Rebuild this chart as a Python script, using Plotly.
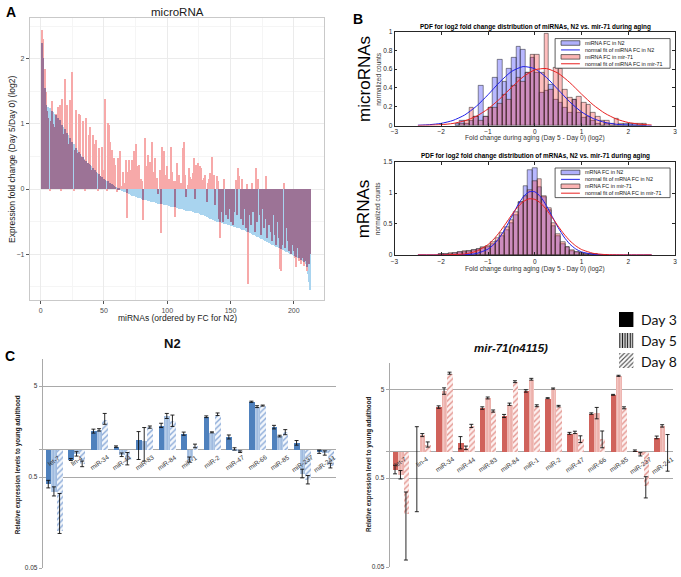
import plotly.graph_objects as go

W, H = 681, 577
FONT = "Liberation Sans, Arial, sans-serif"


def px(x):
    return x / W


def py(y):
    return 1 - y / H


# ---------------- Panel A: miRNA fold changes (log2, Day5/Day0) ----------------
mirna_rank = list(range(1, 214))
fc_n2 = [
    2.25, 2.02, 1.55, 1.30, 1.27, 1.26, 1.24, 1.22, 1.20, 1.18,
    1.16, 1.14, 1.12, 1.10, 1.06, 1.02, 0.99, 0.96, 0.93, 0.90,
    0.86, 0.83, 0.79, 0.75, 0.72, 0.69, 0.66, 0.63, 0.60, 0.57,
    0.54, 0.51, 0.49, 0.47, 0.45, 0.43, 0.41, 0.39, 0.37, 0.35,
    0.33, 0.31, 0.29, 0.27, 0.25, 0.23, 0.21, 0.19, 0.17, 0.16,
    0.14, 0.13, 0.12, 0.10, 0.09, 0.08, 0.06, 0.05, 0.04, 0.03,
    0.02, 0.01, -0.01, -0.02, -0.03, -0.04, -0.05, -0.06, -0.07, -0.08,
    -0.09, -0.10, -0.10, -0.11, -0.12, -0.12, -0.13, -0.14, -0.14, -0.15,
    -0.16, -0.16, -0.17, -0.17, -0.18, -0.18, -0.19, -0.19, -0.20, -0.20,
    -0.21, -0.21, -0.22, -0.22, -0.23, -0.23, -0.24, -0.24, -0.25, -0.25,
    -0.26, -0.26, -0.27, -0.27, -0.28, -0.28, -0.29, -0.29, -0.30, -0.30,
    -0.31, -0.31, -0.32, -0.32, -0.33, -0.33, -0.33, -0.34, -0.34, -0.35,
    -0.35, -0.36, -0.36, -0.37, -0.37, -0.38, -0.39, -0.40, -0.40, -0.41,
    -0.42, -0.43, -0.44, -0.45, -0.46, -0.47, -0.48, -0.49, -0.50, -0.50,
    -0.51, -0.51, -0.52, -0.52, -0.53, -0.53, -0.54, -0.55, -0.55, -0.56,
    -0.56, -0.57, -0.58, -0.58, -0.59, -0.60, -0.60, -0.61, -0.62, -0.63,
    -0.63, -0.64, -0.65, -0.66, -0.67, -0.68, -0.69, -0.70, -0.71, -0.72,
    -0.73, -0.74, -0.75, -0.76, -0.77, -0.78, -0.79, -0.80, -0.81, -0.82,
    -0.83, -0.84, -0.85, -0.86, -0.87, -0.88, -0.89, -0.90, -0.91, -0.92,
    -0.93, -0.94, -0.95, -0.96, -0.97, -0.98, -0.99, -1.00, -1.01, -1.02,
    -1.03, -1.04, -1.05, -1.06, -1.07, -1.08, -1.10, -1.12, -1.15, -1.20,
    -1.30, -1.42, -1.55,
]
fc_mir71 = [
    2.45, 2.30, 1.85, 1.50, 1.20, 1.10, -0.02, 1.05, 1.35, 1.00,
    0.95, 1.15, 0.90, 1.26, 1.30, -0.03, 1.39, 0.85, 1.70, 0.80,
    1.29, 0.70, 1.37, 0.65, 1.80, -0.02, 0.60, 1.21, 0.55, 1.16,
    1.14, 0.50, 1.05, 0.45, -0.02, 1.09, 0.40, 0.83, 0.96, 0.30,
    0.83, 0.25, 0.70, 0.76, -0.03, 0.63, 0.20, 0.65, 0.12, 0.30,
    1.38, -0.02, 1.02, 0.98, 0.73, 0.60, 0.35, 0.48, 0.37, -0.05,
    0.48, 0.20, 0.58, 0.05, 0.27, 0.10, 0.45, -0.44, 0.27, 0.45,
    0.30, 0.45, 0.20, 0.58, 0.70, 0.35, 0.08, 0.37, 0.15, 0.12,
    -0.48, 0.78, 0.35, 0.10, 0.53, 0.42, 0.06, 0.72, 0.27, 0.48,
    0.05, 0.17, -0.08, 0.30, -0.68, 0.65, 0.58, 0.22, 0.10, 0.35,
    0.15, 0.05, 0.65, 0.27, 0.12, -0.43, 0.12, 0.40, 0.22, 0.08,
    0.10, 0.63, 0.72, 0.22, -0.12, 0.07, 0.32, 0.18, 0.15, 0.25,
    0.48, -0.15, 0.37, 0.40, 0.10, 0.35, 0.32, 0.14, 0.17, 0.22,
    -0.20, 0.10, 0.16, 0.25, 0.50, 0.05, 0.22, -0.25, 0.20, 0.12,
    -0.45, -0.75, -0.35, -0.50, 0.15, -0.40, -0.20, -0.45, -0.30, -0.50,
    -0.25, -0.55, -0.35, 0.14, -0.40, 0.32, 0.20, -0.45, 0.15, -0.55,
    -0.30, -0.60, 0.08, -1.46, -0.40, -0.55, 0.10, -0.35, -0.65, 0.32,
    -0.50, 0.15, -0.40, -0.70, -0.30, -0.60, -0.45, 0.20, -0.75, -0.55,
    -0.35, -0.65, -0.80, -0.40, -0.70, -0.85, -0.50, -0.75, -1.22, -1.25,
    -0.85, 0.09, -0.90, -0.60, -0.80, -0.95, -0.70, -1.00, -0.85, -0.95,
    -1.05, -1.20, -0.90, -1.10, -0.98, -1.15, -1.05, -1.18, -1.10, -1.25,
    -1.00, -1.15, -1.00,
]

# ---------------- Panel B: histograms (normalized counts) and normal fits ----------------
mirna_bin_centers = [
    -1.65, -1.55, -1.45, -1.35, -1.25, -1.15, -1.05, -0.95, -0.85, -0.75,
    -0.65, -0.55, -0.45, -0.35, -0.25, -0.15, -0.05, 0.05, 0.15, 0.25,
    0.35, 0.45, 0.55, 0.65, 0.75, 0.85, 0.95, 1.05, 1.15, 1.25,
    1.35, 1.45, 1.55, 1.65, 1.75, 1.85, 1.95, 2.05, 2.15, 2.25, 2.35,
]
mirna_hist_n2 = [
    0.02, 0.05, 0.02, 0.05, 0.09, 0.42, 0.09, 0.19, 0.51, 0.70,
    0.47, 0.61, 0.72, 0.84, 0.81, 0.56, 0.72, 0.56, 0.35, 0.37,
    0.44, 0.28, 0.24, 0.19, 0.14, 0.28, 0.14, 0.08, 0.09, 0.05,
    0.02, 0.0, 0.02, 0.0, 0.0, 0.0, 0.02, 0.02, 0.02, 0.0, 0.0,
]
mirna_hist_mir71 = [
    0.0, 0.02, 0.05, 0.19, 0.09, 0.05, 0.09, 0.19, 0.19, 0.23,
    0.33, 0.28, 0.42, 0.51, 0.47, 0.56, 0.75, 0.75, 0.56, 0.98,
    0.38, 0.62, 0.61, 0.38, 0.30, 0.28, 0.31, 0.24, 0.22, 0.14,
    0.09, 0.05, 0.05, 0.02, 0.07, 0.02, 0.0, 0.0, 0.0, 0.02, 0.02,
]
mirna_fit_x = [-2.5, -2.25, -2.0, -1.75, -1.5, -1.25, -1.0, -0.75, -0.5, -0.25, 0.0,
               0.25, 0.5, 0.75, 1.0, 1.25, 1.5, 1.75, 2.0, 2.25, 2.5]
mirna_fit_n2 = [0.003, 0.009, 0.023, 0.054, 0.112, 0.205, 0.328, 0.463, 0.575, 0.628, 0.605,
                0.512, 0.382, 0.251, 0.145, 0.074, 0.033, 0.013, 0.005, 0.001, 0.0]
mirna_fit_mir71 = [0.001, 0.003, 0.009, 0.022, 0.050, 0.099, 0.177, 0.283, 0.404, 0.518, 0.593,
                   0.607, 0.557, 0.457, 0.335, 0.220, 0.130, 0.068, 0.032, 0.014, 0.005]

mrna_bin_centers = [
    -2.0, -1.9, -1.8, -1.7, -1.6, -1.5, -1.4, -1.3, -1.2, -1.1,
    -1.0, -0.9, -0.8, -0.7, -0.6, -0.5, -0.4, -0.3, -0.2, -0.1,
    0.0, 0.1, 0.2, 0.3, 0.4, 0.5, 0.6, 0.7, 0.8, 0.9,
    1.0, 1.1, 1.2, 1.3, 1.4, 1.5,
]
mrna_hist_n2 = [
    0.006, 0.012, 0.02, 0.03, 0.04, 0.05, 0.065, 0.08, 0.09, 0.11,
    0.13, 0.17, 0.22, 0.30, 0.40, 0.51, 0.65, 0.86, 1.12, 1.37,
    1.41, 1.10, 0.93, 0.72, 0.46, 0.30, 0.18, 0.12, 0.07, 0.05,
    0.03, 0.02, 0.012, 0.008, 0.005, 0.003,
]
mrna_hist_mir71 = [
    0.008, 0.015, 0.025, 0.035, 0.045, 0.06, 0.07, 0.085, 0.10, 0.12,
    0.15, 0.20, 0.27, 0.35, 0.45, 0.56, 0.70, 0.85, 0.95, 1.05,
    1.20, 1.22, 0.95, 0.75, 0.52, 0.33, 0.20, 0.12, 0.08, 0.05,
    0.035, 0.02, 0.012, 0.008, 0.005, 0.003,
]
mrna_fit_x = [-2.5, -2.0, -1.5, -1.25, -1.0, -0.875, -0.75, -0.625, -0.5, -0.375, -0.25, -0.125,
              0.0, 0.125, 0.25, 0.375, 0.5, 0.625, 0.75, 0.875, 1.0, 1.25, 1.5, 2.0, 2.5]
mrna_fit_n2 = [0.0, 0.0, 0.004, 0.022, 0.094, 0.171, 0.284, 0.434, 0.61, 0.788, 0.934, 1.018,
               1.02, 0.939, 0.794, 0.617, 0.441, 0.29, 0.174, 0.097, 0.049, 0.01, 0.001, 0.0, 0.0]
mrna_fit_mir71 = [0.0, 0.001, 0.016, 0.059, 0.167, 0.257, 0.371, 0.502, 0.64, 0.765, 0.859, 0.906,
                  0.898, 0.837, 0.732, 0.602, 0.464, 0.337, 0.229, 0.147, 0.088, 0.026, 0.006, 0.0, 0.0]

# ---------------- Panel C: qPCR relative expression ----------------
qpcr_mirnas = ["let-7", "lin-4", "miR-34", "miR-44", "miR-83", "miR-84", "miR-1",
               "miR-2", "miR-47", "miR-66", "miR-85", "miR-237", "miR-241"]
n2_day3 = [0.42, 0.78, 1.60, 1.08, 1.28, 1.85, 1.50, 2.30, 1.38, 3.36, 1.77, 1.19, 0.95]
n2_day5 = [0.35, 0.90, 1.65, 0.88, 1.25, 2.35, 0.78, 1.55, 1.02, 2.97, 1.41, 0.55, 0.92]
n2_day8 = [0.13, 0.70, 2.15, 0.78, 1.77, 2.10, 1.10, 2.45, 0.95, 3.05, 1.56, 0.47, 0.67]
n2_err3_up = [0.04, 0.02, 0.08, 0.02, 0.30, 0.10, 0.06, 0.05, 0.07, 0.05, 0.08, 0.07, 0.04]
n2_err3_lo = [0.04, 0.02, 0.08, 0.02, 0.50, 0.10, 0.06, 0.05, 0.07, 0.05, 0.08, 0.07, 0.04]
n2_err5_up = [0.04, 0.05, 0.05, 0.04, 0.50, 0.15, 0.05, 0.02, 0.03, 0.07, 0.03, 0.06, 0.05]
n2_err5_lo = [0.04, 0.05, 0.05, 0.04, 0.50, 0.15, 0.05, 0.02, 0.03, 0.07, 0.03, 0.06, 0.05]
n2_err8_up = [0.20, 0.05, 0.35, 0.15, 0.05, 0.30, 0.05, 0.08, 0.02, 0.04, 0.10, 0.05, 0.04]
n2_err8_lo = [0.01, 0.05, 0.25, 0.10, 0.05, 0.30, 0.05, 0.08, 0.02, 0.04, 0.10, 0.05, 0.04]
mir71_day3 = [0.63, 1.00, 3.16, 1.27, 3.08, 2.51, 4.80, 3.98, 1.60, 2.67, 4.34, 1.02, 1.44]
mir71_day5 = [0.55, 1.53, 4.80, 1.10, 4.00, 3.40, 6.50, 5.10, 1.64, 2.73, 7.10, 0.93, 1.94]
mir71_day8 = [0.20, 1.20, 7.60, 1.94, 2.85, 6.10, 3.27, 3.24, 1.38, 1.40, 3.10, 0.41, 1.00]
mir71_err3_up = [0.07, 0.90, 0.10, 0.20, 0.10, 0.10, 0.15, 0.05, 0.04, 0.05, 0.05, 0.02, 0.05]
mir71_err3_lo = [0.07, 0.79, 0.10, 0.20, 0.10, 0.10, 0.15, 0.05, 0.04, 0.05, 0.05, 0.02, 0.05]
mir71_err5_up = [0.06, 0.06, 0.40, 0.05, 0.10, 0.10, 0.15, 0.08, 0.05, 0.40, 0.10, 0.04, 0.06]
mir71_err5_lo = [0.06, 0.06, 0.40, 0.05, 0.10, 0.10, 0.15, 0.08, 0.05, 0.40, 0.10, 0.04, 0.06]
mir71_err8_up = [0.15, 0.08, 0.20, 0.08, 0.08, 0.15, 0.08, 0.06, 0.12, 0.30, 0.08, 0.11, 0.55]
mir71_err8_lo = [0.14, 0.08, 0.20, 0.08, 0.08, 0.15, 0.08, 0.06, 0.12, 0.30, 0.08, 0.11, 0.40]

# legend key for the time points (drawn as tiny bars on a hidden axis)
day_names = ["Day 3", "Day 5", "Day 8"]
day_key_rows = [2.5, 1.5, 0.5]

fig = go.Figure()

# ---- Panel A bars ----
overlap = []
for a, b in zip(fc_n2, fc_mir71):
    if a * b > 0:
        overlap.append(a if abs(a) < abs(b) else b)
    else:
        overlap.append(0)

for vals, col in [(fc_n2, "#a9d4ef"), (fc_mir71, "#f7a9a9"), (overlap, "#9c7396")]:
    fig.add_trace(go.Bar(x=mirna_rank, y=vals, width=1.0,
                         marker=dict(color=col, line=dict(width=0)),
                         xaxis="x", yaxis="y", hoverinfo="skip"))

# ---- Panel B histograms ----
hist_edge = dict(color="rgba(35,35,35,0.85)", width=0.6)
for xa, ya, centers, h1, h2, fx_, f1, f2 in [
    ("x2", "y2", mirna_bin_centers, mirna_hist_n2, mirna_hist_mir71, mirna_fit_x, mirna_fit_n2, mirna_fit_mir71),
    ("x3", "y3", mrna_bin_centers, mrna_hist_n2, mrna_hist_mir71, mrna_fit_x, mrna_fit_n2, mrna_fit_mir71),
]:
    fig.add_trace(go.Bar(x=centers, y=h1, width=0.1,
                         marker=dict(color="rgba(40,40,255,0.33)", line=hist_edge),
                         xaxis=xa, yaxis=ya))
    fig.add_trace(go.Bar(x=centers, y=h2, width=0.1,
                         marker=dict(color="rgba(255,40,40,0.30)", line=hist_edge),
                         xaxis=xa, yaxis=ya))
    fig.add_trace(go.Scatter(x=fx_, y=f1, mode="lines",
                             line=dict(color="#2020e8", width=1, shape="spline", smoothing=0.6),
                             xaxis=xa, yaxis=ya))
    fig.add_trace(go.Scatter(x=fx_, y=f2, mode="lines",
                             line=dict(color="#e82020", width=1, shape="spline", smoothing=0.6),
                             xaxis=xa, yaxis=ya))

# ---- Panel C grouped bars on log axis (base 1) ----
cats = list(range(len(qpcr_mirnas)))
offsets = [-0.25, 0.0, 0.25]


def add_group(vals, up, lo, off, xa, ya, marker):
    xs = [c + off for c in cats]
    fig.add_trace(go.Bar(x=xs, y=[v - 1 for v in vals], base=1, width=0.25,
                         marker=marker, xaxis=xa, yaxis=ya, hoverinfo="skip"))
    fig.add_trace(go.Scatter(x=xs, y=vals, mode="markers",
                             marker=dict(size=1, color="rgba(0,0,0,0)"),
                             error_y=dict(type="data", array=up, arrayminus=lo,
                                          color="#111111", thickness=0.9, width=2),
                             xaxis=xa, yaxis=ya, hoverinfo="skip"))


n2_markers = [
    dict(color="#4f81bd", line=dict(width=0)),
    dict(color="#b5cbe8", line=dict(width=0),
         pattern=dict(shape="|", fgcolor="#94b1da", bgcolor="#b9cfea", size=3, solidity=0.4, fillmode="replace")),
    dict(color="#f2f6fb", line=dict(width=0),
         pattern=dict(shape="/", fgcolor="#8cabd8", bgcolor="#f3f7fc", size=4, solidity=0.35, fillmode="replace")),
]
mir_markers = [
    dict(color="#d0625b", line=dict(width=0)),
    dict(color="#f2c2be", line=dict(width=0),
         pattern=dict(shape="|", fgcolor="#e8a29c", bgcolor="#f4c8c4", size=3, solidity=0.4, fillmode="replace")),
    dict(color="#fcefee", line=dict(width=0),
         pattern=dict(shape="/", fgcolor="#e39690", bgcolor="#fdf1f0", size=4, solidity=0.35, fillmode="replace")),
]
for vals, up, lo, off, mk in zip([n2_day3, n2_day5, n2_day8],
                                 [n2_err3_up, n2_err5_up, n2_err8_up],
                                 [n2_err3_lo, n2_err5_lo, n2_err8_lo], offsets, n2_markers):
    add_group(vals, up, lo, off, "x4", "y4", mk)
for vals, up, lo, off, mk in zip([mir71_day3, mir71_day5, mir71_day8],
                                 [mir71_err3_up, mir71_err5_up, mir71_err8_up],
                                 [mir71_err3_lo, mir71_err5_lo, mir71_err8_lo], offsets, mir_markers):
    add_group(vals, up, lo, off, "x5", "y5", mk)

# ---- Day key swatches ----
day_markers = [
    dict(color="black", line=dict(width=0)),
    dict(color="white", line=dict(width=0),
         pattern=dict(shape="|", fgcolor="#111111", bgcolor="white", size=2.6, solidity=0.5, fillmode="replace")),
    dict(color="white", line=dict(width=0),
         pattern=dict(shape="/", fgcolor="#4a4a4a", bgcolor="white", size=3.2, solidity=0.35, fillmode="replace")),
]
for row, mk in zip(day_key_rows, day_markers):
    fig.add_trace(go.Bar(x=[1], y=[row], base=0, orientation="h", width=0.72,
                         marker=mk, xaxis="x6", yaxis="y6", hoverinfo="skip"))

# ---------------- axes ----------------
ggx = dict(showgrid=True, gridcolor="#ebebeb", gridwidth=0.7, zeroline=False,
           showline=True, mirror=True, linecolor="#c9c9c9", linewidth=1,
           ticks="outside", ticklen=3, tickcolor="#555555", tickwidth=0.7,
           tickfont=dict(size=7, color="#4d4d4d", family=FONT))
mat = dict(showgrid=False, zeroline=False, showline=True, mirror="ticks",
           linecolor="#262626", linewidth=0.8, ticks="inside", ticklen=3,
           tickcolor="#262626", tickwidth=0.7, tickfont=dict(size=6.5, color="#262626", family=FONT))
xl = dict(showgrid=True, gridcolor="#a9a9a9", gridwidth=0.8, zeroline=False,
          showline=True, linecolor="#a9a9a9", linewidth=0.8, type="log",
          range=[-1.30103, 1.0], tickvals=[0.05, 0.5, 1, 5], ticktext=["0.05", "0.5", "", "5"],
          ticks="outside", ticklen=3, tickcolor="#a9a9a9",
          tickfont=dict(size=6.5, color="#333333", family=FONT))

fig.update_layout(
    width=W, height=577, autosize=False,
    margin=dict(l=0, r=0, t=0, b=0),
    paper_bgcolor="white", plot_bgcolor="white",
    barmode="overlay", bargap=0, showlegend=False,
    font=dict(family=FONT, color="#222222"),
    xaxis=dict(domain=[px(26), px(323)], anchor="y", range=[-8.6, 224],
               tickvals=[0, 50, 100, 150, 200],
               minor=dict(dtick=25, tick0=0, showgrid=True, gridcolor="#f5f5f5", gridwidth=0.5, ticks=""),
               **ggx),
    yaxis=dict(domain=[py(300), py(14)], anchor="x", range=[-1.71, 2.63],
               tickvals=[-1, 0, 1, 2],
               minor=dict(dtick=0.5, tick0=0, showgrid=True, gridcolor="#f5f5f5", gridwidth=0.5, ticks=""),
               **ggx),
    xaxis2=dict(domain=[px(394), px(677)], anchor="y2", range=[-3, 3], dtick=1, **mat),
    yaxis2=dict(domain=[py(123), py(28)], anchor="x2", range=[0, 1], dtick=0.2, **mat),
    xaxis3=dict(domain=[px(394), px(677)], anchor="y3", range=[-3, 3], dtick=1, **mat),
    yaxis3=dict(domain=[py(254), py(160)], anchor="x3", range=[0, 1.5], dtick=0.5, **mat),
    xaxis4=dict(domain=[px(39), px(335)], anchor="y4", range=[-0.5, 12.5], visible=False),
    yaxis4=dict(domain=[py(571), py(359)], anchor="x4", **xl),
    xaxis5=dict(domain=[px(389), px(675)], anchor="y5", range=[-0.5, 12.5], visible=False),
    yaxis5=dict(domain=[py(570), py(363)], anchor="x5", **xl),
    xaxis6=dict(domain=[px(620), px(635)], anchor="y6", range=[0, 1], visible=False),
    yaxis6=dict(domain=[py(372), py(309)], anchor="x6", range=[0, 3], visible=False),
)

annotations = []
shapes = []


def note(text, x, y, size, angle=0, color="#1a1a1a", xanchor="center", yanchor="middle", family=FONT):
    annotations.append(dict(text=text, x=px(x), y=py(y), xref="paper", yref="paper",
                            showarrow=False, textangle=angle, xanchor=xanchor, yanchor=yanchor,
                            font=dict(size=size, color=color, family=family)))


# Panel A texts
note("<b>A</b>", 7, 8, 14, color="#000")
note("microRNA", 175, 8, 11.5)
note("Expression fold change (Day 5/Day 0) (log2)", 8, 157, 8.5, angle=-90)
note("miRNAs (ordered by FC for N2)", 175, 318, 8.5)

# Panel B texts
note("<b>B</b>", 357, 15, 14, color="#000")
note("<b>PDF for log2 fold change distribution of miRNAs, N2 vs. mir-71 during aging</b>", 536, 23, 6.4, color="#000")
note("<b>PDF for log2 fold change distribution of mRNAs, N2 vs. mir-71 during aging</b>", 536, 154, 6.4, color="#000")
note("microRNAs", 363, 76, 17, angle=-90, color="#000")
note("normalized counts", 377, 76, 6.5, angle=-90, color="#333")
note("mRNAs", 363, 207, 17, angle=-90, color="#000")
note("normalized counts", 377, 207, 6.5, angle=-90, color="#333")
note("Fold change during aging (Day 5 - Day 0) (log2)", 536, 136, 6.6, color="#333")
note("Fold change during aging (Day 5 - Day 0) (log2)", 536, 268, 6.6, color="#333")


def matlab_legend(top, kind):
    shapes.append(dict(type="rect", xref="paper", yref="paper", x0=px(556), x1=px(672),
                       y0=py(top + 30), y1=py(top), line=dict(color="#333333", width=0.8),
                       fillcolor="white", layer="above"))
    rows = [top + 4.5, top + 11.5, top + 18.5, top + 25.5]
    labels = [f"{kind} FC in N2", f"normal fit of {kind} FC in N2",
              f"{kind} FC in mir-71", f"normal fit of {kind} FC in mir-71"]
    fills = ["#b0b0fb", None, "#fbb4b4", None]
    lines = [None, "#2020e8", None, "#e82020"]
    for r, lab, fc, lc in zip(rows, labels, fills, lines):
        if fc:
            shapes.append(dict(type="rect", xref="paper", yref="paper", x0=px(562), x1=px(581),
                               y0=py(r + 2.3), y1=py(r - 2.3), fillcolor=fc,
                               line=dict(color="#333333", width=0.7), layer="above"))
        else:
            shapes.append(dict(type="line", xref="paper", yref="paper", x0=px(562), x1=px(581),
                               y0=py(r), y1=py(r), line=dict(color=lc, width=1), layer="above"))
        note(lab, 584, r, 5.4, xanchor="left", color="#111")


matlab_legend(35, "miRNA")
matlab_legend(166, "mRNA")

# Panel C texts
note("<b>C</b>", 6, 356, 14, color="#000")
note("<b>N2</b>", 170, 344, 13, color="#111")
note("<b><i>mir-71(n4115)</i></b>", 512, 348, 11.5, color="#111")
note("<b>Relative expression levels to young adulthood</b>", 14, 466, 6.3, angle=-90, color="#222")
note("<b>Relative expression level to young adulthood</b>", 369, 466, 6.3, angle=-90, color="#222")

for xa, ya in [("x4", "y4"), ("x5", "y5")]:
    for i, lab in enumerate(qpcr_mirnas):
        annotations.append(dict(text=lab, x=i, y=0, xref=xa, yref=ya, showarrow=False,
                                textangle=-35, xanchor="center", yanchor="top", yshift=-1,
                                font=dict(size=6.5, color="#333333", family=FONT)))

# Day key labels
for row, nm in zip(day_key_rows, day_names):
    annotations.append(dict(text=nm, x=px(641), y=row, xref="paper", yref="y6", showarrow=False,
                            xanchor="left", yanchor="middle",
                            font=dict(size=14, color="#111111", family="Lato, Open Sans, sans-serif")))

fig.update_layout(annotations=annotations, shapes=shapes)

# the page's default body margin would push the 681x577 figure off its window
fig.write_html("out.html", config={"displayModeBar": False},
               post_script="document.body.style.margin='0px';")
